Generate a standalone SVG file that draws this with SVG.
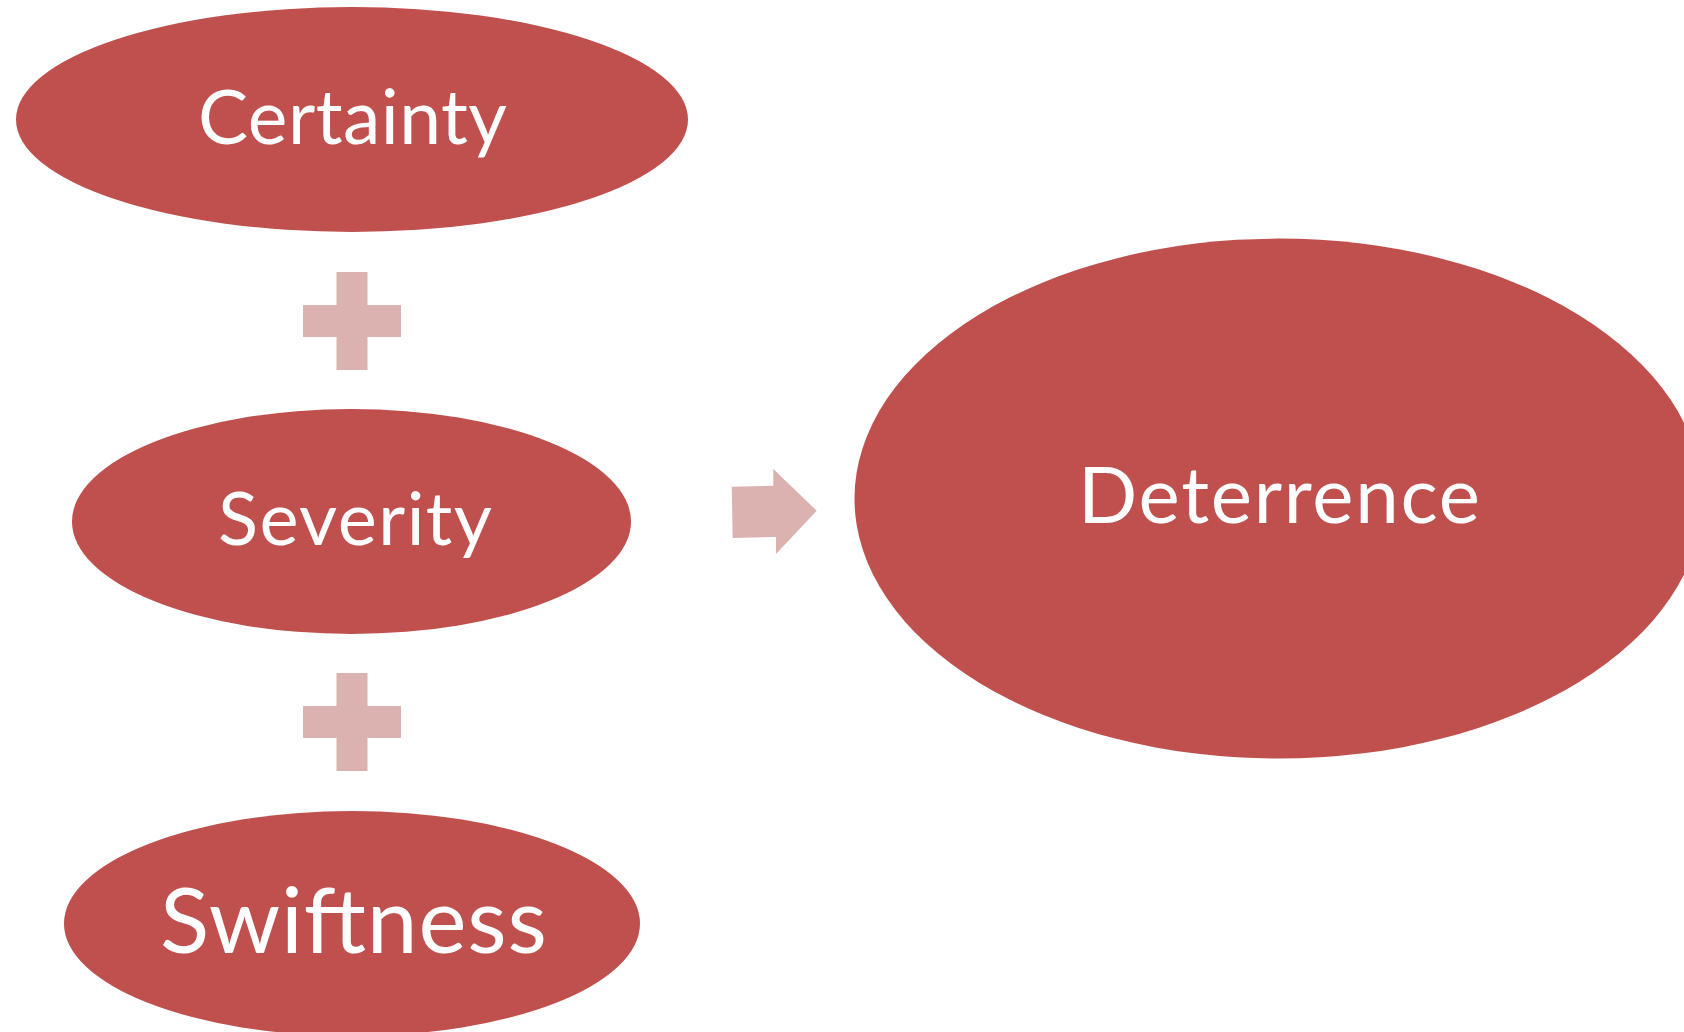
<svg xmlns="http://www.w3.org/2000/svg" width="1684" height="1032" viewBox="0 0 1684 1032">
<style>
.node{fill:#C0504D}
.op{fill:#DCB2B1}
.lbl{fill:#FFFFFF;font-family:Lato,"Open Sans","Liberation Sans",sans-serif;text-anchor:middle}
</style>
<rect width="1684" height="1032" fill="#FFFFFF"/>
<g id="connectors">
<path class="op" d="M336.5,272 H367.5 V305 H401 V337 H367.5 V370 H336.5 V337 H303 V305 H336.5 Z"/>
<path class="op" d="M336.5,673 H367.5 V706 H401 V738 H367.5 V771 H336.5 V738 H303 V706 H336.5 Z"/>
<path class="op" d="M731.7,486.7 L773.3,485.7 L773.3,469 L816.7,510.7 L776,554 L776,537 L732.7,538 Z"/>
</g>
<g id="certainty">
<ellipse class="node" cx="352" cy="119.5" rx="336" ry="112.5"/>
<text class="lbl" x="352.5" y="144" font-size="75" textLength="309" lengthAdjust="spacing">Certainty</text>
</g>
<g id="severity">
<ellipse class="node" cx="351.5" cy="521.5" rx="279.5" ry="112.5"/>
<text class="lbl" x="355" y="545" font-size="74" textLength="274" lengthAdjust="spacing">Severity</text>
</g>
<g id="swiftness">
<ellipse class="node" cx="352" cy="923.5" rx="288" ry="112.5"/>
<text class="lbl" x="353.5" y="952.5" font-size="91" textLength="387" lengthAdjust="spacing">Swiftness</text>
</g>
<g id="deterrence">
<ellipse class="node" cx="1278.5" cy="498.6" rx="424" ry="260"/>
<text class="lbl" x="1279" y="523" font-size="78" textLength="402" lengthAdjust="spacing">Deterrence</text>
</g>
</svg>
